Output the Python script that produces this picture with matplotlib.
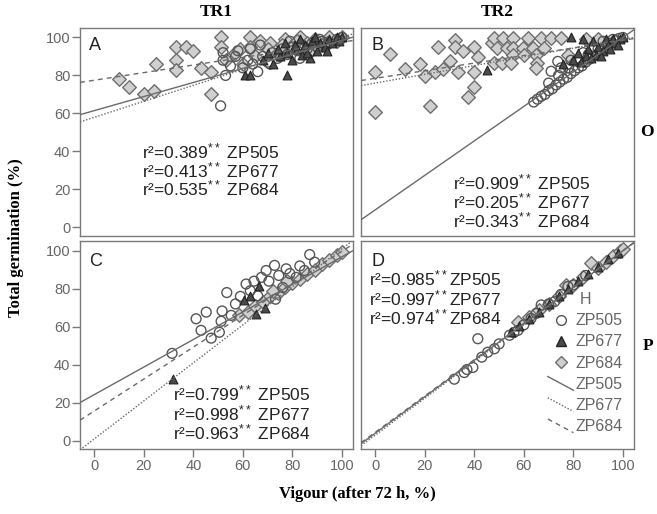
import matplotlib
matplotlib.use("Agg")
import matplotlib.pyplot as plt
import numpy as np
from matplotlib.lines import Line2D
from matplotlib.legend_handler import HandlerLine2D

plt.rcParams['font.family'] = ['Liberation Sans', 'DejaVu Sans']
plt.rcParams['mathtext.fontset'] = 'custom'
plt.rcParams['mathtext.rm'] = 'Liberation Sans'
plt.rcParams['mathtext.default'] = 'regular'

# ---- data ----
# panel A (TR1, O)
a505_x = [51, 52, 53, 52, 55, 57, 60, 62, 64, 66, 68, 70, 72, 74, 76, 78, 80, 82, 84, 86,
          88, 90, 92, 95, 98, 100, 58, 63, 67, 71, 75, 79, 83, 87, 91, 94]
a505_y = [64, 92, 80, 88, 85, 90, 84, 88, 86, 82, 90, 87, 92, 89, 94, 91, 95, 93, 96, 94,
          97, 95, 98, 97, 99, 100, 93, 94, 96, 86, 90, 98, 89, 92, 99, 96]
a677_x = [61, 63, 78, 68, 72, 75, 78, 80, 82, 84, 85, 87, 88, 90, 91, 93, 95, 96, 98, 100,
          74, 81, 86, 89, 94, 99, 70, 77, 83]
a677_y = [80, 80, 80, 88, 86, 90, 92, 88, 94, 91, 96, 89, 98, 93, 97, 95, 99, 97, 100, 100,
          94, 96, 92, 100, 93, 98, 92, 97, 99]
a684_x = [10, 14, 20, 24, 25, 33, 37, 40, 33, 33, 43, 47, 47, 51, 51, 53, 57, 59, 63, 63,
          67, 71, 74, 77, 80, 83, 86, 89, 92, 95, 98, 60, 65, 70, 76, 82, 88, 94, 100]
a684_y = [78, 74, 70, 72, 86, 95, 95, 93, 88, 83, 84, 82, 70, 100, 95, 88, 92, 94, 100, 95,
          98, 97, 92, 99, 95, 100, 97, 99, 96, 100, 98, 86, 90, 94, 96, 98, 94, 97, 100]

# panel B (TR2, O)
b505_x = [64, 65.5, 67, 68.5, 70, 71.5, 73, 74.5, 76, 77.5, 79, 80.5, 82, 83.5, 85, 86.5,
          88, 89.5, 91, 92.5, 94, 95.5, 97, 98.5, 100, 70, 74, 78, 82, 86, 90, 94, 75, 79,
          84, 88, 92, 96, 73.7, 71]
b505_y = [66, 67.5, 69, 70, 72, 73, 75, 76.5, 78, 79, 81, 82.5, 84, 85, 87, 88.5,
          90, 91, 93, 94.5, 96, 97, 98.5, 99.5, 100, 76, 80, 84, 88, 91, 94, 97, 84, 88,
          92, 95, 98, 99, 87.4, 82.2]
b677_x = [45, 79, 84, 88, 93, 96, 99, 82, 86, 90, 94, 97, 100, 80, 85, 89, 92, 95, 98,
          76, 83, 87, 91]
b677_y = [83, 100, 99, 98, 99, 99, 99, 92, 94, 95, 96, 97, 100, 88, 90, 91, 93, 94, 96,
          86, 87, 89, 90]
b684_x = [0, 0, 6, 12, 18, 20, 22, 24, 25.5, 27.5, 30, 32, 32, 33.5, 35.5, 40, 40, 40,
          37.5, 41.5, 47, 48, 51.5, 55.5, 61.5, 67, 71, 75, 49, 53, 55.5, 59.5, 63.5, 68,
          55.5, 60, 65, 78, 48, 51, 55, 65.5, 65, 85, 90]
b684_y = [60.5, 82, 91.5, 83.5, 86, 79.5, 64, 82, 95, 83.5, 87.5, 98.5, 95, 82, 93, 95,
          82, 74, 68.5, 89.5, 97, 99.5, 99.5, 99.5, 99.5, 99.5, 99.5, 99.5, 94.5, 94.5,
          94.5, 94.5, 94.5, 94.5, 91, 91, 91, 91, 86.5, 86.5, 86.5, 86.5, 84, 99, 99]

# panel C (TR1, P)
c505_x = [31.4, 41.1, 43.1, 45.2, 47.2, 50.5, 51.2, 51.6, 55.3, 53.5, 57, 59, 61.3, 63,
          64.5, 66, 67.5, 69.4, 70.5, 72.8, 73.2, 74.5, 76.1, 77.5, 79, 81.5, 83, 84.9, 87, 89]
c505_y = [46, 64.2, 58.1, 67.7, 54, 57.1, 62.9, 68.3, 66, 78, 72, 76, 82.5, 79,
          84, 76.3, 86, 89.6, 84, 92.3, 74.5, 87, 80.7, 90.5, 88, 86, 92, 89.6, 98, 94]
c677_x = [31.7, 65.4, 68.8, 62.7, 66.7, 60.5]
c677_y = [32.7, 66.5, 69.7, 76.3, 81.6, 74]
c684_x = [58.6, 62, 65, 68, 71, 74, 77, 80, 83, 86, 89, 92, 95, 98, 100, 72, 78]
c684_y = [66, 68, 71, 73, 76, 78, 81, 83, 85, 88, 90, 93, 95, 98, 99.5, 79, 84]

# panel D (TR2, P)
d505_x = [31.9, 35.9, 39.4, 41.4, 45.4, 48.1, 54.2, 57.6, 62.9, 67, 72.4, 77.8, 37, 43,
          50, 56, 60, 65, 70, 75, 80, 85]
d505_y = [32.4, 35.9, 38.6, 53.7, 46.6, 48.4, 55.5, 58.1, 64.4, 71.5, 73.2, 81.2, 37.5, 44,
          51, 57, 61, 67, 72, 77, 82, 87]
d677_x = [55, 58, 62, 66, 70, 74, 78, 82, 86, 90, 94, 98]
d677_y = [57, 60.5, 64, 68, 72, 76, 80, 84, 88, 91.5, 95.5, 99]
d684_x = [57.6, 62, 66, 70, 74, 77.1, 80, 84, 87.2, 90, 93, 96, 99, 100]
d684_y = [62.6, 65, 69, 72, 76, 82.1, 82, 86, 93.7, 91, 94, 97, 100, 101]

# fitted lines (intercept, slope) for ZP505, ZP677, ZP684
fits = {
    'A': [(61.5, 0.37), (58.0, 0.42), (77.5, 0.20)],
    'B': [(9.3, 0.907), (76.0, 0.23), (78.5, 0.20)],
    'C': [(24.3, 0.725), (1.0, 1.0), (15.7, 0.84)],
    'D': [(4.0, 0.96), (3.0, 0.97), (4.5, 0.955)],
}

r2 = {
    'A': ['0.389', '0.413', '0.535'],
    'B': ['0.909', '0.205', '0.343'],
    'C': ['0.799', '0.998', '0.963'],
    'D': ['0.985', '0.997', '0.974'],
}
genos = ['ZP505', 'ZP677', 'ZP684']
ticks = [0, 20, 40, 60, 80, 100]

grey = '#6a6a6a'
line_styles = ['-', (0, (1, 1.3)), (0, (3.5, 3))]


class SlantLine(HandlerLine2D):
    def create_artists(self, legend, orig_handle, xdescent, ydescent, width, height,
                       fontsize, trans):
        ln = Line2D([-xdescent, -xdescent + width], [height * 1.1 - ydescent, -ydescent - 1])
        self.update_prop(ln, orig_handle, legend)
        ln.set_transform(trans)
        return [ln]


fig = plt.figure(figsize=(6.57, 5.14), dpi=100)
pos = {
    'A': [0.1218, 0.5409, 0.4155, 0.4047],
    'B': [0.5495, 0.5409, 0.4155, 0.4047],
    'C': [0.1218, 0.1259, 0.4155, 0.4047],
    'D': [0.5495, 0.1259, 0.4155, 0.4047],
}
data = {
    'A': [(a505_x, a505_y), (a677_x, a677_y), (a684_x, a684_y)],
    'B': [(b505_x, b505_y), (b677_x, b677_y), (b684_x, b684_y)],
    'C': [(c505_x, c505_y), (c677_x, c677_y), (c684_x, c684_y)],
    'D': [(d505_x, d505_y), (d677_x, d677_y), (d684_x, d684_y)],
}
# where the r2 block sits (axes coords: x, y of first line, step)
txt_pos = {
    'A': (0.226, 0.405, 0.088, ' '),
    'B': (0.338, 0.256, 0.091, ' '),
    'C': (0.342, 0.267, 0.093, ' '),
    'D': (0.030, 0.820, 0.093, ''),
}
xlim = (-5.8, 104.5)
ylim = (-4.5, 105)

for key in 'ABCD':
    ax = fig.add_axes(pos[key])
    ax.set_xlim(*xlim)
    ax.set_ylim(*ylim)
    (x5, y5), (x7, y7), (x4, y4) = data[key]
    ax.scatter(x4, y4, s=48, marker='D', facecolor='#cfcfcf', edgecolor='#6e6e6e',
               linewidth=1.0, zorder=3)
    ax.scatter(x5, y5, s=50, marker='o', facecolor='none', edgecolor='#555555',
               linewidth=1.0, zorder=4)
    ax.scatter(x7, y7, s=40, marker='^', facecolor='#4a4a4a', edgecolor='#222222',
               linewidth=0.8, zorder=5)
    xx = np.array(xlim)
    for (b0, b1), ls in zip(fits[key], line_styles):
        ax.plot(xx, b0 + b1 * xx, color=grey, lw=1.0, linestyle=ls, zorder=6)

    tx, ty, step, sep = txt_pos[key]
    for i, (v, g) in enumerate(zip(r2[key], genos)):
        ax.text(tx, ty - i * step, 'r²=' + v + '$^{**}$' + sep + g, transform=ax.transAxes,
                fontsize=12.5, color='#222222', va='center', ha='left', zorder=8)
    ax.text(0.033 if key in 'AC' else 0.039, 0.915 if key in 'AB' else 0.905, key,
            transform=ax.transAxes, fontsize=13, color='#222222', va='center', ha='left')

    for s in ax.spines.values():
        s.set_color('#7a7a7a')
        s.set_linewidth(1.0)
    ax.tick_params(length=6, width=1.0, color='#7a7a7a', labelcolor='#666666',
                   labelsize=10.5, pad=1)
    if key in 'AC':
        ax.set_yticks(ticks)
    else:
        ax.set_yticks([])
    if key in 'CD':
        ax.set_xticks(ticks)
    else:
        ax.set_xticks([])

    if key == 'D':
        handles = [
            Line2D([], [], marker='o', ls='none', markersize=7, markerfacecolor='none',
                   markeredgecolor='#555555'),
            Line2D([], [], marker='^', ls='none', markersize=6.5, markerfacecolor='#4a4a4a',
                   markeredgecolor='#222222'),
            Line2D([], [], marker='D', ls='none', markersize=6.5, markerfacecolor='#cfcfcf',
                   markeredgecolor='#6e6e6e'),
        ]
        line_handles = [Line2D([], [], color=grey, lw=1.0, ls=ls) for ls in line_styles]
        hmap = {h: SlantLine() for h in line_handles}
        leg = ax.legend(handles + line_handles, genos + genos, loc='upper left',
                        bbox_to_anchor=(0.655, 0.795), frameon=False, title='H',
                        fontsize=11.5, handlelength=1.6, handletextpad=0.15,
                        labelspacing=0.39, borderpad=0, handler_map=hmap)
        leg.get_title().set_color('#666666')
        leg.get_title().set_fontsize(11.5)
        for t in leg.get_texts():
            t.set_color('#666666')

serif = ['Liberation Serif', 'DejaVu Serif']
fig.text(216 / 657, 1 - 12 / 514, 'TR1', family=serif, weight='bold', fontsize=12.5,
         ha='center', va='center')
fig.text(497 / 657, 1 - 12 / 514, 'TR2', family=serif, weight='bold', fontsize=12.5,
         ha='center', va='center')
fig.text(647 / 657, 1 - 132 / 514, 'O', family=serif, weight='bold', fontsize=12.5,
         ha='center', va='center')
fig.text(648 / 657, 1 - 346 / 514, 'P', family=serif, weight='bold', fontsize=12.5,
         ha='center', va='center')
fig.text(16 / 657, 1 - 238 / 514, 'Total germination (%)', family=serif, weight='bold',
         fontsize=12, ha='center', va='center', rotation=90)
fig.text(357 / 657, 1 - 494 / 514, 'Vigour (after 72 h, %)', family=serif, weight='bold',
         fontsize=12, ha='center', va='center')

fig.savefig('out.png', dpi=100)
